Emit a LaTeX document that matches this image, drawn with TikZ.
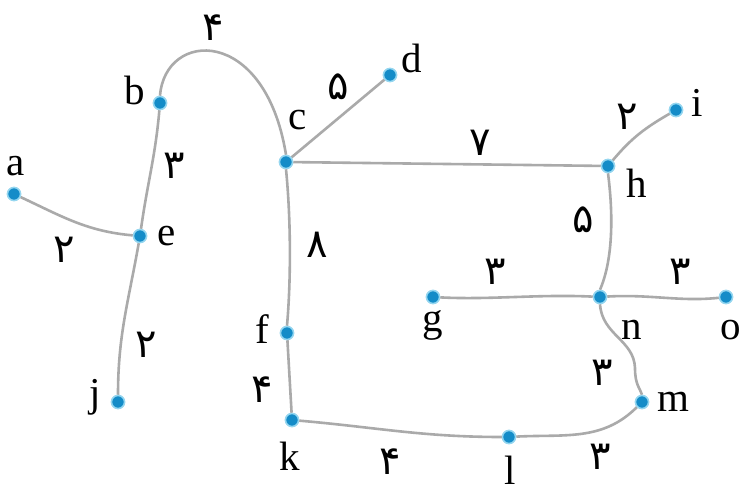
\documentclass[tikz,border=0pt]{standalone}
\usepackage{fontspec}
\setmainfont{Liberation Serif}
\newfontfamily\fadigits[Script=Arabic]{DejaVu Sans}
\definecolor{dotblue}{RGB}{20,140,200}
\definecolor{dotglow}{RGB}{150,215,240}
\definecolor{edgegray}{RGB}{170,170,170}
\tikzset{
  vtx/.style={circle, fill=dotblue, draw=dotglow, line width=1.5pt, inner sep=0pt, minimum size=13pt},
  edge/.style={draw=edgegray, line width=2.6pt},
  lbl/.style={font=\fontsize{41}{41}\selectfont, inner sep=0pt, anchor=center},
  wt/.style={font=\fadigits\fontsize{40}{40}\selectfont, inner sep=0pt, anchor=center}
}
\begin{document}
\begin{tikzpicture}[x=1pt,y=-1pt]
\useasboundingbox[fill=white] (0,0) rectangle (742,492);
% vertices
\node[vtx] (a) at (14,194) {};
\node[vtx] (b) at (160,103) {};
\node[vtx] (c) at (286,162) {};
\node[vtx] (d) at (390,75) {};
\node[vtx] (e) at (140,236) {};
\node[vtx] (f) at (287,333) {};
\node[vtx] (g) at (433,297) {};
\node[vtx] (h) at (608,166) {};
\node[vtx] (i) at (676,110) {};
\node[vtx] (j) at (118,402) {};
\node[vtx] (k) at (292,420) {};
\node[vtx] (l) at (509,437) {};
\node[vtx] (m) at (642,402) {};
\node[vtx] (n) at (600,297) {};
\node[vtx] (o) at (726,297) {};
\coordinate (nm) at (635,368);
% edges
\draw[edge] (a) to[out=-25,in=175] (e);
\draw[edge] (e) to[out=82,in=-95] (b);
\draw[edge] (e) to[out=-100,in=90] (j);
\draw[edge] (b.north) .. controls (165,30) and (265,25) .. (c.north);
\draw[edge] (c) -- (d);
\draw[edge] (c) -- (h);
\draw[edge] (c.south) .. controls (291,220) and (291,280) .. (f.north);
\draw[edge] (f) -- (k);
\draw[edge] (k) to[out=-5,in=180] (l);
\draw[edge] (l) to[out=3,in=-135] (m);
\draw[edge] (n.south) .. controls (602,335) and (634,340) .. (nm) .. controls (635,385) and (640,388) .. (m.north);
\draw[edge] (h.south) .. controls (614,220) and (612,262) .. (n.north);
\draw[edge] (g) .. controls (490,300) and (540,294) .. (n);
\draw[edge] (n) .. controls (650,294) and (680,302) .. (o);
\draw[edge] (h) to[out=50,in=-150] (i);
% redraw vertices on top
\foreach \v in {a,b,c,d,e,f,g,h,i,j,k,l,m,n,o}{
  \node[vtx] at (\v) {};
}
% vertex labels
\node[lbl] (la) at (16,166) {a};
\node[lbl] (lb) at (135,90) {b};
\node[lbl] (lc) at (298,120) {c};
\node[lbl] (ld) at (412,58) {d};
\node[lbl] (le) at (167,236) {e};
\node[lbl] (lf) at (262,329) {f};
\node[lbl] (lg) at (433,325) {g};
\node[lbl] (lh) at (637,183) {h};
\node[lbl] (li) at (697,103) {i};
\node[lbl] (lj) at (95,397) {j};
\node[lbl] (lk) at (290,456) {k};
\node[lbl] (ll) at (510,470) {l};
\node[lbl] (lm) at (673,402) {m};
\node[lbl] (ln) at (632,330) {n};
\node[lbl] (lo) at (731,330) {o};
% weights
\node[wt] (wbc) at (213,28) {۴};
\node[wt] (wcd) at (338,87) {۵};
\node[wt] (wch) at (480,143) {۷};
\node[wt] (whi) at (627,117) {۲};
\node[wt] (whn) at (583,220) {۵};
\node[wt] (wae) at (64,250) {۲};
\node[wt] (wbe) at (174,166) {۳};
\node[wt] (wej) at (146,345) {۲};
\node[wt] (wcf) at (317,245) {۸};
\node[wt] (wfk) at (262,390) {۴};
\node[wt] (wkl) at (390,462) {۴};
\node[wt] (wlm) at (600,457) {۳};
\node[wt] (wnm) at (602,373) {۳};
\node[wt] (wgn) at (495,272) {۳};
\node[wt] (wno) at (680,272) {۳};
\end{tikzpicture}
\end{document}
